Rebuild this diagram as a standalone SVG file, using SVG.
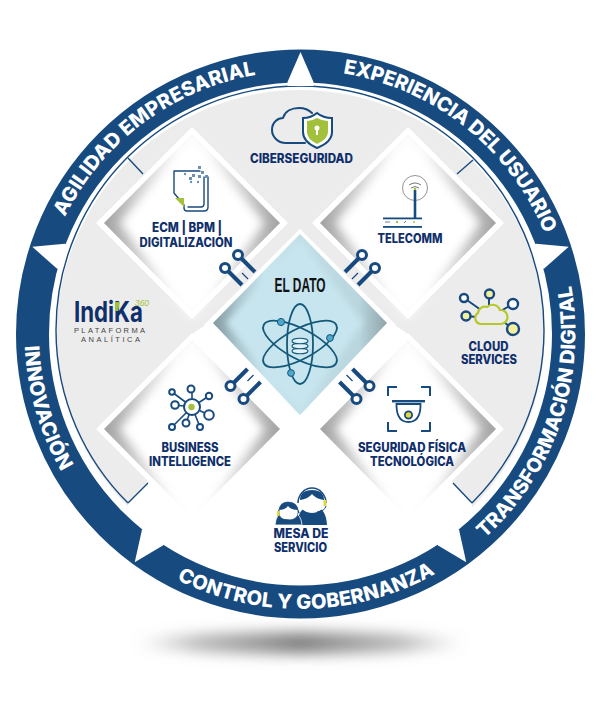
<svg xmlns="http://www.w3.org/2000/svg" xmlns:xlink="http://www.w3.org/1999/xlink" width="600" height="722" viewBox="0 0 600 722">
<style>
.lb{font-family:"Inter","Liberation Sans",sans-serif;font-weight:800;font-size:12.5px;fill:#0f2f6b;text-anchor:middle}
.rt{font-family:"Inter","Liberation Sans",sans-serif;font-weight:800;font-size:20px;fill:#fff}
.ln{fill:none;stroke:#174a7e;stroke-width:2;stroke-linecap:round;stroke-linejoin:round}
.th{fill:none;stroke:#174a7e;stroke-width:1.4}
.nd{fill:#fff;stroke:#174a7e;stroke-width:2}
.ndy{fill:#f4f0a0;stroke:#174a7e;stroke-width:2.4}
.lime{fill:#a3c03d}
.nv{fill:#174a7e}
.atom{fill:none;stroke:#14597a;stroke-width:1.8}
</style>
<defs>
<filter id="b5" x="-20%" y="-20%" width="140%" height="140%"><feGaussianBlur stdDeviation="5"/></filter>
<filter id="b3" x="-20%" y="-20%" width="140%" height="140%"><feGaussianBlur stdDeviation="3"/></filter>
<filter id="bs" x="-20%" y="-150%" width="140%" height="400%"><feGaussianBlur stdDeviation="7"/></filter>
<linearGradient id="gd" x1="0" x2="1" y1="0" y2="0"><stop offset="0" stop-color="#a2a2a2"/><stop offset=".2" stop-color="#cfcfcf"/><stop offset=".42" stop-color="#f8f8f8"/><stop offset=".58" stop-color="#f8f8f8"/><stop offset=".8" stop-color="#cfcfcf"/><stop offset="1" stop-color="#a2a2a2"/></linearGradient>
<linearGradient id="gc" x1="0" x2="1" y1="0" y2="0"><stop offset="0" stop-color="#84999f"/><stop offset=".14" stop-color="#a9c4cc"/><stop offset=".3" stop-color="#c7e5ee"/><stop offset=".84" stop-color="#b9d5dd"/><stop offset="1" stop-color="#8fa4aa"/></linearGradient>
<linearGradient id="gs" x1="0" x2="1" y1="0" y2="0"><stop offset="0" stop-color="#8a8a8a" stop-opacity="0"/><stop offset=".2" stop-color="#8a8a8a" stop-opacity=".6"/><stop offset=".5" stop-color="#7a7a7a" stop-opacity=".95"/><stop offset=".8" stop-color="#8a8a8a" stop-opacity=".6"/><stop offset="1" stop-color="#8a8a8a" stop-opacity="0"/></linearGradient>
<g id="dia">
<polygon points="0,-96 96,0 0,96 -96,0" fill="#fff"/>
<polygon points="0,-89 88,0 0,89 -88,0" fill="url(#gd)"/>
<polygon points="0,-86 72,0 0,96 -72,0" fill="#fff" filter="url(#b5)"/>
</g>
<polygon id="wedge" points="0,-282 13,-252 13,-248 -13,-248 -13,-252" fill="#fff"/>
<g id="pins" fill="none" stroke="#174a7e">
<line x1="241.500" y1="258.500" x2="255" y2="272" stroke-width="4"/>
<line x1="228.500" y1="271.500" x2="242" y2="285" stroke-width="4"/>
<circle cx="238" cy="255" r="4.500" stroke-width="3" fill="#fff"/>
<circle cx="225" cy="268" r="4.500" stroke-width="3" fill="#fff"/>
<line x1="242" y1="273" x2="248" y2="279" stroke-width="1.200"/>
</g>
<path id="p1" d="M64.900 217.100A263 263 0 0 1 256.200 74.800"/>
<path id="p2" d="M342.900 73.400A264 264 0 0 1 544.900 234.300"/>
<path id="p3" d="M484.500 538.400A275 275 0 0 0 570.600 282.600"/>
<path id="p4" d="M176.900 579.600A275 275 0 0 0 435.900 573.400"/>
<path id="p5" d="M24.800 346A276 276 0 0 0 61.500 472"/>
</defs>

<ellipse cx="300" cy="643" rx="165" ry="11" fill="url(#gs)" filter="url(#bs)"/>

<g id="wheel">
<circle cx="300.500" cy="334" r="284" fill="#fff"/>
<circle cx="300.500" cy="334" r="244" fill="#ececec"/>
<polygon points="204,326 192,334 192,430 148,483 128,503 128,590 472,590 472,503 453,483 408,430 408,334 396,326" fill="#fff"/>
<path d="M128 503A244 244 0 1 1 472 503" fill="none" stroke="#174a7e" stroke-width="1.400"/>
<path d="M128 503L148 483M472 503L453 483M128 158L143 174M473 160L457 174" class="th"/>
<circle cx="300.500" cy="334" r="268" fill="none" stroke="#174a7e" stroke-width="33"/>
<use xlink:href="#wedge" href="#wedge" transform="translate(300.500 334)"/>
<use xlink:href="#wedge" href="#wedge" transform="translate(300.500 334) rotate(72)"/>
<use xlink:href="#wedge" href="#wedge" transform="translate(300.500 334) rotate(144)"/>
<use xlink:href="#wedge" href="#wedge" transform="translate(300.500 334) rotate(216)"/>
<use xlink:href="#wedge" href="#wedge" transform="translate(300.500 334) rotate(288)"/>
<text class="rt"><textPath href="#p1" xlink:href="#p1" textLength="247" lengthAdjust="spacing">AGILIDAD EMPRESARIAL</textPath></text>
<text class="rt"><textPath href="#p2" xlink:href="#p2" textLength="269" lengthAdjust="spacing">EXPERIENCIA DEL USUARIO</textPath></text>
<text class="rt"><textPath href="#p3" xlink:href="#p3" textLength="279" lengthAdjust="spacing">TRANSFORMACIÓN DIGITAL</textPath></text>
<text class="rt"><textPath href="#p4" xlink:href="#p4" textLength="269" lengthAdjust="spacing">CONTROL Y GOBERNANZA</textPath></text>
<text class="rt"><textPath href="#p5" xlink:href="#p5" textLength="132" lengthAdjust="spacing">INNOVACIÓN</textPath></text>
</g>

<g id="node-ecm">
<use href="#dia" xlink:href="#dia" transform="translate(192 223)"/>
<path d="M200 171H174V193L184 205V208Q184 211 187 211H204Q208 211 208 207V177M204 177V204Q204 207 201 207H188" class="ln" style="stroke-width:1.400"/>
<polygon points="175,198 184,198 184,207" class="lime"/>
<g fill="#6f90b5"><rect x="198" y="166" width="3" height="3"/><rect x="201" y="171" width="3" height="3"/><rect x="205" y="175" width="3" height="3"/><rect x="198" y="175" width="3" height="3"/><rect x="192" y="174" width="3" height="3"/><rect x="189" y="177" width="3" height="3"/><circle cx="185" cy="174" r="1.200"/><circle cx="191" cy="182" r="1.200"/><circle cx="198" cy="182" r="1.200"/></g>
<text class="lb" x="187" y="232" textLength="70" lengthAdjust="spacingAndGlyphs">ECM | BPM |</text>
<text class="lb" x="186" y="247" textLength="93" lengthAdjust="spacingAndGlyphs">DIGITALIZACIÓN</text>
</g>

<g id="node-telecomm">
<use href="#dia" xlink:href="#dia" transform="translate(408 223)"/>
<circle cx="415" cy="188" r="12.500" fill="none" stroke="#888" stroke-width=".9"/>
<path d="M409 185Q415 181 421 185M411 188Q415 185 419 188" fill="none" stroke="#777" stroke-width="1"/>
<line x1="415" y1="190" x2="415" y2="218" stroke="#174a7e" stroke-width="2.600"/>
<circle cx="415" cy="189" r="1.300" fill="#a3c03d"/>
<rect x="383" y="217.500" width="39" height="1.800" class="nv"/>
<rect x="383" y="226" width="39" height="1.800" class="nv"/>
<path d="M385 222H390M404 223L406 221" stroke="#555" stroke-width=".8" fill="none"/>
<circle cx="397" cy="222" r="1.200" fill="#a3c03d"/><circle cx="414" cy="222" r="1" fill="#a3c03d"/>
<text class="lb" x="410" y="243" textLength="65" lengthAdjust="spacingAndGlyphs">TELECOMM</text>
</g>

<g id="node-bi">
<use href="#dia" xlink:href="#dia" transform="translate(192 429)"/>
<path d="M192 407L192 389M192 407L209 396M192 407L209 415M192 407L200 427M192 407L186 423M192 407L172 427M192 407L175 405M192 407L172 392" class="ln" style="stroke-width:1.600"/>
<circle cx="192" cy="407" r="8" class="nd"/><circle cx="191.500" cy="407" r="3.200" class="lime"/>
<circle cx="191" cy="389" r="3.500" class="nd"/><circle cx="209" cy="396" r="3.200" class="nd"/><circle cx="209" cy="415" r="4.800" class="nd"/><circle cx="200" cy="427" r="3" class="nd"/><circle cx="186" cy="423" r="3.500" class="nd"/><circle cx="172" cy="427" r="3" class="nd"/><circle cx="175" cy="405" r="3.800" class="nd"/><circle cx="172" cy="392" r="2.800" class="nd"/>
<text class="lb" x="190" y="452" textLength="57" lengthAdjust="spacingAndGlyphs">BUSINESS</text>
<text class="lb" x="190" y="466" textLength="82" lengthAdjust="spacingAndGlyphs">INTELLIGENCE</text>
</g>

<g id="node-seguridad">
<use href="#dia" xlink:href="#dia" transform="translate(408 429)"/>
<path d="M388 396V387H397M421 387H430V396M388 422V431H397M421 431H430V422" class="ln" style="stroke-linecap:butt"/>
<rect x="392" y="400" width="33" height="2.400" class="nv"/>
<path d="M396.500 404H420.500V406Q420 422 408.500 422Q397 422 396.500 406Z" class="nd" style="stroke-width:1.800"/>
<circle cx="408.500" cy="415" r="3.600" fill="#e3d83c" stroke="#174a7e" stroke-width="1.800"/>
<text class="lb" x="412" y="452" textLength="108" lengthAdjust="spacingAndGlyphs">SEGURIDAD FÍSICA</text>
<text class="lb" x="412" y="466" textLength="84" lengthAdjust="spacingAndGlyphs">TECNOLÓGICA</text>
</g>

<g id="node-dato">
<polygon points="300,229 396,325 300,421 204,325" fill="#fff"/>
<polygon points="300,234 387,323 300,415 213,323" fill="url(#gc)"/>
<polygon points="300,240 363,323 300,412 226,323" fill="#c7e5ee" filter="url(#b3)"/>
<text x="300" y="292" text-anchor="middle" font-family="Liberation Sans,sans-serif" font-weight="700" font-size="20" fill="#111" textLength="51" lengthAdjust="spacingAndGlyphs">EL DATO</text>
<g class="atom">
<ellipse cx="300" cy="344" rx="13" ry="40"/>
<ellipse cx="300" cy="344" rx="41" ry="15" transform="rotate(28 300 344)"/>
<ellipse cx="300" cy="344" rx="41" ry="15" transform="rotate(-28 300 344)"/>
</g>
<circle cx="281" cy="322" r="3.600" fill="#4ea8cc" stroke="#14597a"/><circle cx="330" cy="338" r="3.400" fill="#4ea8cc" stroke="#14597a"/><circle cx="291" cy="373" r="3.400" fill="#4ea8cc" stroke="#14597a"/>
<g fill="#dff2f8" stroke="#14597a" stroke-width="1.100">
<ellipse cx="300" cy="351" rx="8" ry="2.800"/><ellipse cx="300" cy="346" rx="8" ry="2.800"/><ellipse cx="300" cy="341" rx="8" ry="2.800"/>
</g>
</g>

<g id="connectors">
<use href="#pins" xlink:href="#pins"/>
<use href="#pins" xlink:href="#pins" transform="translate(600 0) scale(-1 1)"/>
<use href="#pins" xlink:href="#pins" transform="translate(5.500 654) scale(1 -1)"/>
<use href="#pins" xlink:href="#pins" transform="translate(594.500 654) scale(-1 -1)"/>
</g>

<g id="node-ciberseguridad">
<path d="M305 143H286C277 143 272 136 272 130C272 122 278 118 283 118C285 111 292 108 299 108C304 108 309 110 312 113" class="ln"/>
<path d="M303 118Q311 118 317 113Q323 118 332 118V132Q332 142 317 148Q303 142 303 132Z" fill="#fff" stroke="#174a7e" stroke-width="2"/>
<path d="M307 121Q312 121 317 118Q322 121 328 121V132Q328 139 317 144Q307 139 307 132Z" class="lime"/>
<circle cx="317" cy="128" r="2.500" fill="#fff"/><rect x="316" y="128" width="2" height="7" fill="#fff"/>
<text class="lb" x="301.500" y="163" textLength="103" lengthAdjust="spacingAndGlyphs">CIBERSEGURIDAD</text>
</g>

<g id="node-cloud">
<path d="M464 298L481 310M489 294V306M513 304L499 312M466 316L477 317M513 329L500 319" class="ln"/>
<path d="M481 324a6 6 0 0 1-3-11a7 7 0 0 1 9-6a8 8 0 0 1 13 3a7 7 0 0 1 1 14z" fill="#ececec" stroke="#b5c928" stroke-width="2.200"/>
<circle cx="464" cy="298" r="4" fill="#fff" stroke="#174a7e" stroke-width="2.400"/>
<circle cx="489.500" cy="294" r="4.500" class="ndy"/>
<circle cx="513" cy="304" r="5" fill="#fff" stroke="#174a7e" stroke-width="2.400"/>
<circle cx="466" cy="316" r="4.500" class="ndy"/>
<circle cx="513" cy="329" r="6" class="ndy"/>
<text class="lb" x="488.500" y="351" textLength="40" lengthAdjust="spacingAndGlyphs">CLOUD</text>
<text class="lb" x="489" y="364" textLength="56" lengthAdjust="spacingAndGlyphs">SERVICES</text>
</g>

<g id="node-mesa">
<path d="M297 525Q298 510 306 508H318Q326 510 327 525Z" class="nv"/>
<path d="M298 503A14 15 0 0 1 326 503" fill="none" stroke="#174a7e" stroke-width="1.500"/>
<path d="M300 502Q300 490 312 490Q324 490 324 502Q324 512 312 513Q300 512 300 502Z" fill="#fff"/>
<path d="M300 500Q300 490 312 490Q324 490 324 500Q316 499 312 494Q308 499 300 500Z" class="nv"/>
<rect x="323.500" y="500" width="3" height="6" fill="#e3d83c"/>
<path d="M326 506Q325 511 317 512" fill="none" stroke="#174a7e"/>
<path d="M275 525Q276 514 283 513H294Q301 514 302 525Z" fill="#174a7e" stroke="#fff" stroke-width=".8"/>
<path d="M278 513A11 12 0 0 1 299 513" fill="none" stroke="#174a7e" stroke-width="1.400"/>
<path d="M279 512Q279 502 288 502Q298 502 298 512Q298 520 288 520Q279 520 279 512Z" fill="#fff" stroke="#174a7e" stroke-width=".6"/>
<path d="M279 510Q280 502 288 502Q297 502 298 510Q291 510 288 506Q285 510 279 510Z" class="nv"/>
<rect x="277" y="511" width="2.500" height="5" fill="#e3d83c"/>
<path d="M278 516Q280 520 289 520" fill="none" stroke="#174a7e"/>
<text class="lb" x="301" y="538" textLength="55" lengthAdjust="spacingAndGlyphs">MESA DE</text>
<text class="lb" x="300.500" y="552" textLength="53" lengthAdjust="spacingAndGlyphs">SERVICIO</text>
</g>

<g id="logo">
<text x="74" y="322" font-family="Inter,Liberation Sans,sans-serif" font-weight="700" font-size="28" fill="#0f2f6b" textLength="69" lengthAdjust="spacingAndGlyphs">IndiKa</text>
<polygon points="115,302 120,302 118,311 115,311" class="lime"/>
<text x="135" y="306" font-family="Liberation Sans,sans-serif" font-style="italic" font-size="9" fill="#a3c03d" textLength="14" lengthAdjust="spacingAndGlyphs">360</text>
<text x="74" y="333" font-family="Liberation Sans,sans-serif" font-size="7.500" fill="#444" textLength="71" lengthAdjust="spacing">PLATAFORMA</text>
<text x="81" y="342" font-family="Liberation Sans,sans-serif" font-size="7.500" fill="#444" textLength="59" lengthAdjust="spacing">ANALÍTICA</text>
</g>
</svg>
